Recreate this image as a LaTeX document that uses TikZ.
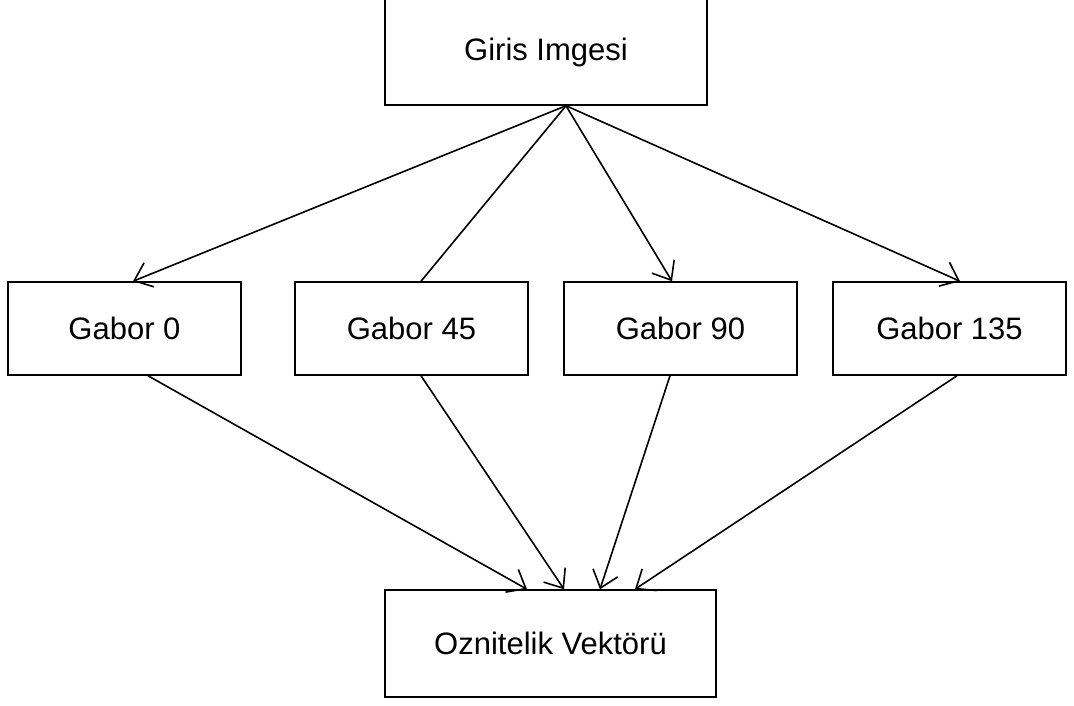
\documentclass[tikz,border=0pt]{standalone}
\usepackage{fontspec}
\setmainfont{Liberation Sans}
\usetikzlibrary{arrows.meta,calc}
\begin{document}
\begin{tikzpicture}[x=1pt,y=-1pt,
  block/.style={draw,line width=1.5pt,rectangle,inner sep=0pt,font=\fontsize{31}{36}\selectfont},
  link/.style={line width=1.6pt},
  arr/.style={link,-{Straight Barb[length=16pt,width=26pt,line width=1.6pt]}}]
\useasboundingbox (0,0) rectangle (1074,706);
% input image (its top edge runs off the page)
\node[block,minimum width=322pt,minimum height=113pt] (top) at (546,48.5) {};
\node[font=\fontsize{31}{36}\selectfont] (toptext) at (546,52.5) {Giris Imgesi};
% filter banks
\node[block,minimum width=233pt,minimum height=93pt] (g0) at (124.5,328.5) {Gabor 0};
\node[block,minimum width=233pt,minimum height=93pt] (g45) at (411.5,328.5) {Gabor 45};
\node[block,minimum width=233pt,minimum height=93pt] (g90) at (680.5,328.5) {Gabor 90};
\node[block,minimum width=233pt,minimum height=93pt] (g135) at (949.5,328.5) {Gabor 135};
% feature vector
\node[block,minimum width=331pt,minimum height=107pt] (out) at (550.5,643.5) {Oznitelik Vektörü};
% fan-out
\coordinate (src) at ($(top.south)+(20,0)$);
\draw[arr] (src) -- ($(g0.north)+(8.5,0)$);
\draw[link] (src) -- ($(g45.north)+(9.5,0)$);
\draw[arr] (src) -- ($(g90.north)+(-8.5,0)$);
\draw[arr] (src) -- ($(g135.north)+(10.5,0)$);
% fan-in
\draw[arr] ($(g0.south)+(23.5,0)$) -- ($(out.north)+(-23.5,0)$);
\draw[arr] ($(g45.south)+(9.5,0)$) -- ($(out.north)+(13.5,0)$);
\draw[arr] ($(g90.south)+(-10.5,0)$) -- ($(out.north)+(49.5,0)$);
\draw[arr] ($(g135.south)+(7.5,0)$) -- ($(out.north)+(84.5,0)$);
\end{tikzpicture}
\end{document}
